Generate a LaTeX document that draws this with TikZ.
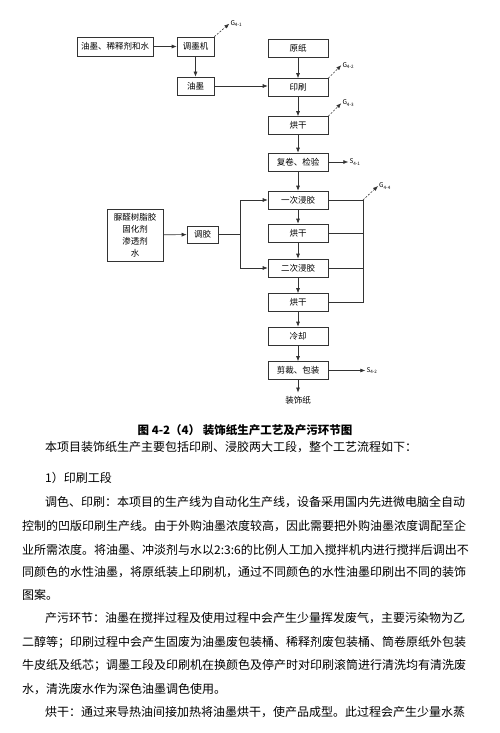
\documentclass[tikz,border=0pt]{standalone}
\usepackage{fontspec}
\setmainfont{Noto Sans CJK SC}
\usepackage{tikz}
\usetikzlibrary{arrows.meta,positioning,calc}

\begin{document}
\begin{tikzpicture}[x=1pt, y=-1pt,
  every node/.style={font=\fontsize{8.5}{12}\selectfont},
  box/.style={draw=black!80, line width=0.6pt, minimum width=60pt,
              minimum height=18pt, inner sep=1pt},
  arr/.style={-{Latex[length=5pt,width=4pt]}, line width=0.6pt, draw=black!80},
  link/.style={line width=0.6pt, draw=black!80},
  emit/.style={arr, dash pattern=on 2pt off 1.5pt},
  tag/.style={font=\fontsize{6.5}{7}\selectfont, anchor=west, inner sep=1pt},
  body/.style={font=\fontsize{12}{14}\selectfont, anchor=west, inner sep=0pt},
]
\useasboundingbox (0,0) rectangle (499,733);

% Ink preparation
\node[box, minimum width=76pt, minimum height=19pt] (mix) at (115,46.5) {油墨、稀释剂和水};
\node[box, minimum width=37pt, minimum height=19pt] (tiao) at (195.5,46.5) {调墨机};
\node[box, minimum width=37pt] (ink) at (195.5,86) {油墨};

% Main line
\node[box] (paper) at (298,48) {原纸};
\node[box] (print) at (298,87.5) {印刷};
\node[box] (dry1) at (298,125.5) {烘干};
\node[box] (rewind) at (298,162) {复卷、检验};
\node[box] (dip1) at (298,200) {一次浸胶};
\node[box] (dry2) at (298,233) {烘干};
\node[box] (dip2) at (298,268) {二次浸胶};
\node[box] (dry3) at (298,302.5) {烘干};
\node[box] (cool) at (298,336) {冷却};
\node[box] (cut) at (298,370.5) {剪裁、包装};
\node (prod) at (298,400) {装饰纸};

% Glue preparation
\node[box, minimum width=56pt, minimum height=52pt, align=center] (glue)
  at (135,235) {脲醛树脂胶\\固化剂\\渗透剂\\水};
\node[box, minimum width=31pt, minimum height=17pt] (tiaojiao) at (202.5,234.5) {调胶};
\coordinate (busl) at (240,234.5);
\coordinate (busr) at (363,200);

% Arrows
\draw[arr] (mix) -- (tiao);
\draw[arr] (tiao) -- (ink);
\draw[arr] (ink.east) -- (ink.east -| print.west);
\draw[arr] (paper) -- (print);
\draw[arr] (print) -- (dry1);
\draw[arr] (dry1) -- (rewind);
\draw[arr] (rewind) -- (dip1);
\draw[arr] (dip1) -- (dry2);
\draw[arr] (dry2) -- (dip2);
\draw[arr] (dip2) -- (dry3);
\draw[arr] (dry3) -- (cool);
\draw[arr] (cool) -- (cut);
\draw[arr] (cut) -- (prod);
\draw[arr] (glue) -- (tiaojiao);
\draw[link] (tiaojiao) -- (busl);
\draw[arr] (busl) |- (dip1);
\draw[arr] (busl) |- (dip2);
\draw[link] (dip1) -- (busr);
\draw[link] (dry2) -- (dry2 -| busr);
\draw[link] (dip2) -- (dip2 -| busr);
\draw[link] (dry3) -- (dry3 -| busr);
\draw[link] (busr) -- (dry3 -| busr);

% Emissions
\draw[emit] (tiao.north east) -- ++(15,-13) coordinate (g1);
\node[tag] (g1lab) at (g1) {G\textsubscript{4-1}};
\draw[emit] (print.north east) -- ++(13,-13) coordinate (g2);
\node[tag] (g2lab) at (g2) {G\textsubscript{4-2}};
\draw[emit] (dry1.north east) -- ++(13,-13) coordinate (g3);
\node[tag] (g3lab) at (g3) {G\textsubscript{4-3}};
\draw[emit] (busr) -- ++(15,-14) coordinate (g4);
\node[tag] (g4lab) at (g4) {G\textsubscript{4-4}};
\draw[arr] (rewind.east) -- ++(20,0) coordinate (s1);
\node[tag] (s1lab) at (s1) {S\textsubscript{4-1}};
\draw[arr] (cut.east) -- ++(37,0) coordinate (s2);
\node[tag] (s2lab) at (s2) {S\textsubscript{4-2}};

% Caption and text
\node[font=\bfseries\fontsize{11.5}{13}\selectfont] (cap) at (245,430)
  {图 4-2（4） 装饰纸生产工艺及产污环节图};
\node[body] (l1) at (45,447) {本项目装饰纸生产主要包括印刷、浸胶两大工段，整个工艺流程如下：};
\node[body] (l2) at (45,478) {1）印刷工段};
\node[body] (l3) at (45,502) {调色、印刷：本项目的生产线为自动化生产线，设备采用国内先进微电脑全自动};
\node[body] (l4) at (22,526) {控制的凹版印刷生产线。由于外购油墨浓度较高，因此需要把外购油墨浓度调配至企};
\node[body] (l5) at (22,550) {业所需浓度。将油墨、冲淡剂与水以2:3:6的比例人工加入搅拌机内进行搅拌后调出不};
\node[body] (l6) at (22,572) {同颜色的水性油墨，将原纸装上印刷机，通过不同颜色的水性油墨印刷出不同的装饰};
\node[body] (l7) at (22,595) {图案。};
\node[body] (l8) at (45,618) {产污环节：油墨在搅拌过程及使用过程中会产生少量挥发废气，主要污染物为乙};
\node[body] (l9) at (22,642) {二醇等；印刷过程中会产生固废为油墨废包装桶、稀释剂废包装桶、筒卷原纸外包装};
\node[body] (l10) at (22,665) {牛皮纸及纸芯；调墨工段及印刷机在换颜色及停产时对印刷滚筒进行清洗均有清洗废};
\node[body] (l11) at (22,689) {水，清洗废水作为深色油墨调色使用。};
\node[body] (l12) at (45,712) {烘干：通过来导热油间接加热将油墨烘干，使产品成型。此过程会产生少量水蒸};
\end{tikzpicture}
\end{document}
